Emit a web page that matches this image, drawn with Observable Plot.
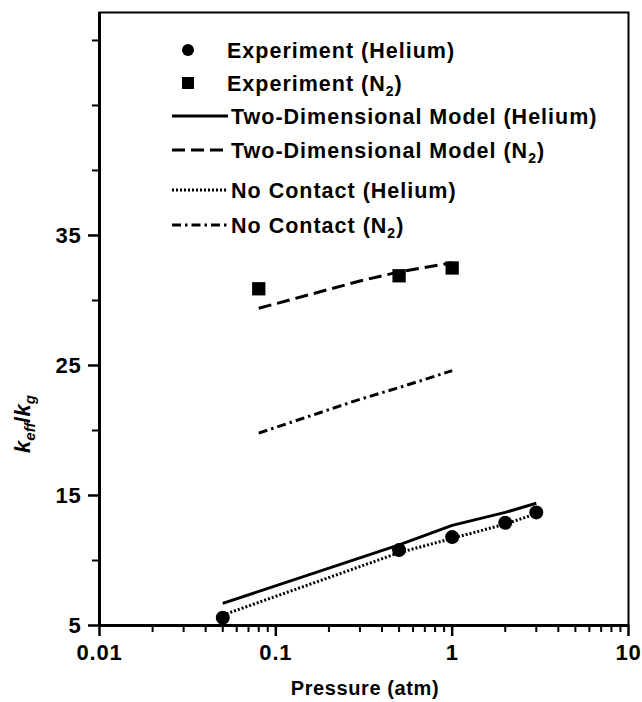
<!DOCTYPE html>
<html><head><meta charset="utf-8">
<script src="https://cdn.jsdelivr.net/npm/d3@7"></script>
<script src="https://cdn.jsdelivr.net/npm/@observablehq/plot@0.6"></script>
<style>body{margin:0;background:#fff}</style>
</head><body><div id="chart"></div>
<script>
// ---- data ----
const expHePressure = [0.05, 0.5, 1, 2, 3];
const expHeValue    = [5.6, 10.8, 11.8, 12.9, 13.7];
const expN2Pressure = [0.08, 0.5, 1];
const expN2Value    = [30.9, 31.9, 32.5];
const model2dHePressure = [0.05, 0.5, 1, 2, 3];
const model2dHeValue    = [6.7, 11.2, 12.7, 13.7, 14.4];
const model2dN2Pressure = [0.08, 0.3, 0.5, 1];
const model2dN2Value    = [29.4, 31.5, 32.2, 32.9];
const noContactHePressure = [0.05, 0.5, 1, 2, 3];
const noContactHeValue    = [5.8, 10.6, 11.7, 12.8, 13.6];
const noContactN2Pressure = [0.08, 0.3, 0.5, 1];
const noContactN2Value    = [19.8, 22.4, 23.3, 24.6];
const xMajorTicks = [0.01, 0.1, 1, 10];
const xMinorTicks = [0.02,0.03,0.04,0.05,0.06,0.07,0.08,0.09,0.2,0.3,0.4,0.5,0.6,0.7,0.8,0.9,2,3,4,5,6,7,8,9];
const yLabelTicks = [5, 15, 25, 35];
const yMinorTicks = [10, 20, 30, 40, 45, 50];
const legendItems = [
  {kind: "circle", text: "Experiment (Helium)", sub: null},
  {kind: "square", text: "Experiment (N", sub: "2"},
  {kind: "solid", text: "Two-Dimensional Model (Helium)", sub: null},
  {kind: "dashed", text: "Two-Dimensional Model (N", sub: "2"},
  {kind: "dotted", text: "No Contact (Helium)", sub: null},
  {kind: "dashdot", text: "No Contact (N", sub: "2"}
];
const xLabel = "Pressure (atm)";

const zip = (xs, ys) => xs.map((x, i) => ({p: x, v: ys[i]}));
const dashes = {solid: null, dashed: "13,6", dotted: "2,2", dashdot: "9,4,2.5,4"};
const lineStyle = {x: "p", y: "v", stroke: "#000", strokeWidth: 3, strokeLinecap: "butt"};

const plot = Plot.plot({
  width: 642, height: 702,
  marginLeft: 99, marginRight: 14, marginTop: 12, marginBottom: 77,
  style: {fontFamily: "'Liberation Sans', Arial, sans-serif", fontWeight: "bold", color: "#000", background: "#fff"},
  x: {type: "log", domain: [0.01, 10]},
  y: {domain: [5, 52.15]},
  marks: [
    Plot.frame({stroke: "#000", strokeWidth: 2}),
    Plot.ruleX([0.01], {stroke: "#000", strokeWidth: 3}),
    Plot.ruleY([5], {stroke: "#000", strokeWidth: 3}),
    Plot.axisX({ticks: xMajorTicks, tickSize: 11, tickPadding: 8, tickFormat: d => String(d), fontSize: 22, strokeWidth: 2.5, label: null}),
    Plot.axisX({ticks: xMinorTicks, tickSize: 7, tickFormat: () => "", strokeWidth: 2, label: null}),
    Plot.axisY({ticks: yLabelTicks, tickSize: 11, tickPadding: 7, tickFormat: d => String(d), fontSize: 22, strokeWidth: 2.5, label: null}),
    Plot.axisY({ticks: yMinorTicks, tickSize: 7, tickFormat: () => "", strokeWidth: 2, label: null}),
    Plot.line(zip(model2dHePressure, model2dHeValue), lineStyle),
    Plot.line(zip(model2dN2Pressure, model2dN2Value), {...lineStyle, strokeDasharray: dashes.dashed}),
    Plot.line(zip(noContactHePressure, noContactHeValue), {...lineStyle, strokeDasharray: dashes.dotted}),
    Plot.line(zip(noContactN2Pressure, noContactN2Value), {...lineStyle, strokeDasharray: dashes.dashdot}),
    Plot.dot(zip(expHePressure, expHeValue), {x: "p", y: "v", r: 7, fill: "#000", symbol: "circle"}),
    Plot.dot(zip(expN2Pressure, expN2Value), {x: "p", y: "v", r: 7.5, fill: "#000", symbol: "square"})
  ]
});

const svg = d3.select(plot);
svg.selectAll("g[aria-label='x-axis tick label'], g[aria-label='y-axis tick label']").attr("letter-spacing", 0.8);
// x axis title
svg.append("text").attr("x", 365).attr("y", 695).attr("text-anchor", "middle")
  .attr("font-size", 20).attr("letter-spacing", 0.6).attr("font-weight", "bold").attr("fill", "#000").text(xLabel);
// y axis title with italic k and subscripts
const yt = svg.append("text")
  .attr("transform", "translate(30,424) rotate(-90)")
  .attr("text-anchor", "middle")
  .attr("font-size", 22).attr("font-weight", "bold").attr("fill", "#000");
yt.append("tspan").attr("font-style", "italic").text("k");
yt.append("tspan").attr("font-style", "italic").attr("font-size", 15).attr("dy", 5).text("eff");
yt.append("tspan").attr("dy", -5).text("/");
yt.append("tspan").attr("font-style", "italic").text("k");
yt.append("tspan").attr("font-style", "italic").attr("font-size", 15).attr("dy", 5).text("g");

// legend
const rowY = [50, 83, 116, 150, 190, 225];
const lg = svg.append("g").attr("font-size", 21.5).attr("letter-spacing", 1).attr("font-weight", "bold")
  .attr("fill", "#000").attr("text-anchor", "start");
legendItems.forEach((it, i) => {
  const y = rowY[i];
  const isSym = it.kind === "circle" || it.kind === "square";
  if (it.kind === "circle") {
    lg.append("circle").attr("cx", 188).attr("cy", y).attr("r", 6).attr("fill", "#000");
  } else if (it.kind === "square") {
    lg.append("rect").attr("x", 182).attr("y", y - 6).attr("width", 12).attr("height", 12).attr("fill", "#000");
  } else {
    lg.append("line").attr("x1", 172).attr("x2", 228).attr("y1", y).attr("y2", y)
      .attr("stroke", "#000").attr("stroke-width", 3)
      .attr("stroke-dasharray", dashes[it.kind]);
  }
  const t = lg.append("text").attr("x", isSym ? 227 : 231).attr("y", y).attr("dy", "0.36em");
  t.append("tspan").text(it.text);
  if (it.sub) {
    t.append("tspan").attr("font-size", 14).attr("dy", 5).text(it.sub);
    t.append("tspan").attr("dy", -5).text(")");
  }
});

document.getElementById("chart").appendChild(plot);
</script>
</body></html>
